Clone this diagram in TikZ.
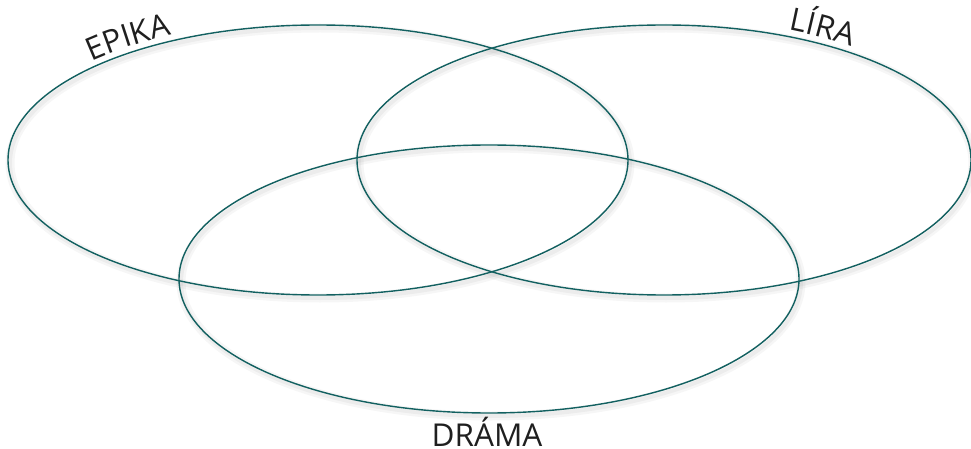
\documentclass[tikz,border=0pt]{standalone}
\usepackage{fontspec}
\setmainfont{Open Sans}
\usetikzlibrary{decorations.text}
\definecolor{ring}{RGB}{18,96,96}
\newcommand{\lblfont}{\fontsize{31.5}{32}\selectfont}
\begin{document}
\begin{tikzpicture}[x=1pt,y=1pt,
  ringline/.style={draw=ring,line width=1.4pt},
  ringshadow/.style={draw=black,opacity=0.035,line width=9pt},
  ringshadowb/.style={draw=black,opacity=0.04,line width=4pt},
  arclabel/.style={decorate,decoration={text along path,text align=center,
     text format delimiters={|}{|},text color=black!88}}]
\useasboundingbox (0,0) rectangle (971,-449);
% shadows
\foreach \cx/\cy/\rx/\ry in {318/-160/310/135, 664/-160/307/135, 489/-279/310/134}{
  \draw[ringshadow] (\cx+2,\cy-3) ellipse[x radius=\rx,y radius=\ry];
  \draw[ringshadowb] (\cx+2,\cy-3) ellipse[x radius=\rx,y radius=\ry];
}
% rings
\draw[ringline] (318,-160) ellipse[x radius=310,y radius=135];
\draw[ringline] (664,-160) ellipse[x radius=307,y radius=135];
\draw[ringline] (489,-279) ellipse[x radius=310,y radius=134];
% labels
\coordinate (ec) at (318,-160);
\coordinate (lc) at (664,-160);
\path[arclabel,decoration={text={|\lblfont|EPIKA}}]
  (ec) ++(148:318 and 141) arc[start angle=148,end angle=108,x radius=318,y radius=141];
\path[arclabel,decoration={text={|\lblfont|LÍRA}}]
  (lc) ++(78.5:313 and 142) arc[start angle=78.5,end angle=38.5,x radius=313,y radius=142];
\node[anchor=base,font=\lblfont,text=black!88,inner sep=0pt] (dlabel) at (487,-446) {DRÁMA};
\end{tikzpicture}
\end{document}
